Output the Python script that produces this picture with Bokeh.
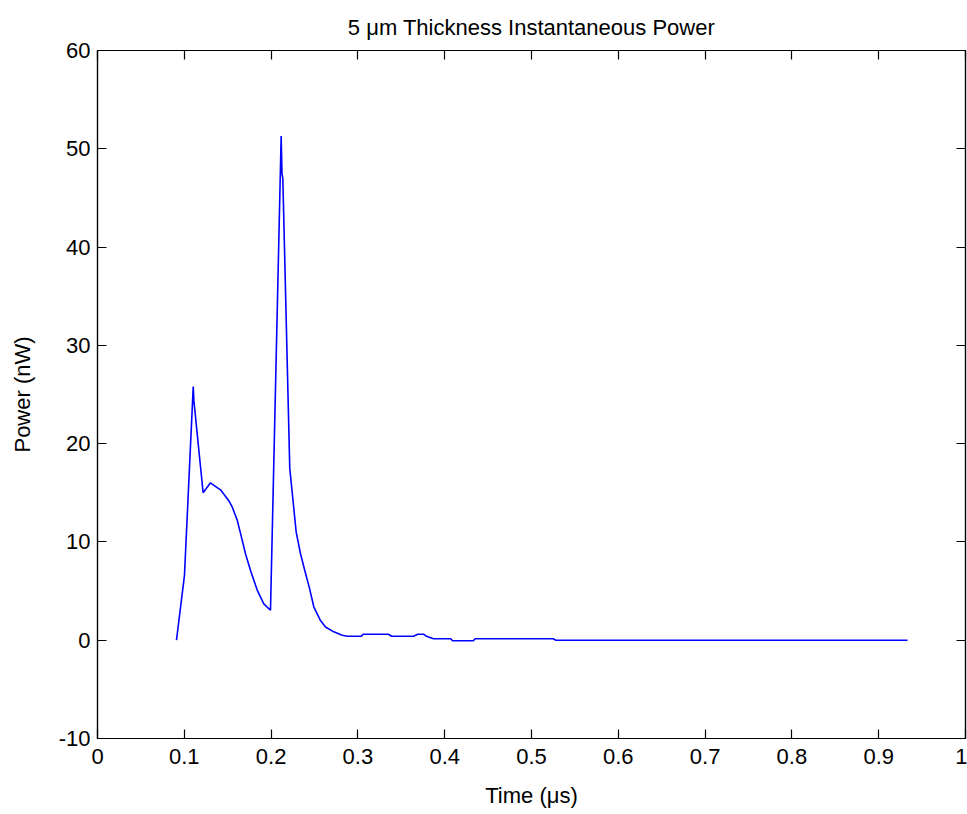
from bokeh.plotting import figure
from bokeh.models import LinearAxis, FixedTicker, Range1d
from bokeh.embed import file_html
from bokeh.resources import INLINE

# ---- data ----
time_us = [0.091, 0.1002, 0.1103, 0.1110, 0.1217, 0.1300, 0.1417, 0.1513, 0.1550,
           0.1610, 0.1647, 0.1705, 0.1763, 0.1840, 0.1916, 0.1993, 0.2116, 0.2125,
           0.2135, 0.2215, 0.2289, 0.2339, 0.2388, 0.2442, 0.2492, 0.2569, 0.2627,
           0.2722, 0.2819, 0.2880, 0.3040, 0.3060, 0.3350, 0.3390, 0.3640, 0.3690,
           0.3760, 0.3790, 0.3870, 0.4070, 0.4090, 0.4330, 0.4350, 0.5250, 0.5280,
           0.9332]
power_nw = [0.0, 6.6, 25.8, 24.4, 15.0, 16.0, 15.3, 14.2, 13.6,
            12.2, 10.9, 8.8, 7.1, 5.1, 3.7, 3.05, 51.3, 47.5,
            47.0, 17.5, 11.0, 8.8, 7.1, 5.3, 3.4, 2.0, 1.35,
            0.85, 0.5, 0.4, 0.4, 0.6, 0.6, 0.4, 0.4, 0.6,
            0.6, 0.4, 0.15, 0.15, -0.05, -0.05, 0.15, 0.15, 0.0,
            0.0]

x_ticks = [0, 0.1, 0.2, 0.3, 0.4, 0.5, 0.6, 0.7, 0.8, 0.9, 1]
x_tick_labels = ["0", "0.1", "0.2", "0.3", "0.4", "0.5", "0.6", "0.7", "0.8", "0.9", "1"]
y_ticks = [-10, 0, 10, 20, 30, 40, 50, 60]
y_tick_labels = ["-10", "0", "10", "20", "30", "40", "50", "60"]

title_text = "5 \u03bcm Thickness Instantaneous Power"
x_label = "Time (\u03bcs)"
y_label = "Power (nW)"

FONT = "Liberation Sans"
TICK_SIZE = "22px"
LABEL_SIZE = "22px"

p = figure(width=967, height=814,
           x_range=Range1d(0, 1), y_range=Range1d(-10, 60),
           output_backend="svg", toolbar_location=None,
           min_border_left=97, min_border_right=2,
           min_border_top=50, min_border_bottom=76)

p.line(time_us, power_nw, line_color="#0000ff", line_width=1.6)

p.grid.visible = False
p.outline_line_color = "black"
p.outline_line_width = 1.2
p.background_fill_color = "white"
p.border_fill_color = "white"

p.title.text = title_text
p.title.align = "center"
p.title.text_font = FONT
p.title.text_font_size = "22px"
p.title.text_font_style = "normal"
p.title.text_color = "black"
p.title.standoff = 21


def style_axis(ax, ticks, labels, show_labels):
    ax.ticker = FixedTicker(ticks=ticks)
    ax.minor_tick_line_color = None
    ax.major_tick_in = 9
    ax.major_tick_out = 0
    ax.major_tick_line_color = "black"
    ax.major_tick_line_width = 1.2
    ax.axis_line_color = "black"
    ax.axis_line_width = 1.2
    ax.major_label_text_font = FONT
    ax.major_label_text_color = "black"
    if show_labels:
        ax.major_label_overrides = {t: l for t, l in zip(ticks, labels)}
        ax.major_label_text_font_size = TICK_SIZE
    else:
        ax.major_label_overrides = {t: "" for t in ticks}
        ax.major_label_text_font_size = "1px"
        ax.major_label_standoff = 0
        ax.axis_label = None


xa = p.xaxis[0]
style_axis(xa, x_ticks, x_tick_labels, True)
xa.axis_label = x_label
xa.axis_label_text_font = FONT
xa.axis_label_text_font_size = LABEL_SIZE
xa.axis_label_text_font_style = "normal"
xa.axis_label_text_color = "black"
xa.major_label_standoff = 10
xa.axis_label_standoff = 16

ya = p.yaxis[0]
style_axis(ya, y_ticks, y_tick_labels, True)
ya.axis_label = y_label
ya.axis_label_text_font = FONT
ya.axis_label_text_font_size = LABEL_SIZE
ya.axis_label_text_font_style = "normal"
ya.axis_label_text_color = "black"
ya.major_label_standoff = 7
ya.axis_label_standoff = 21

top_ax = LinearAxis()
style_axis(top_ax, x_ticks, x_tick_labels, False)
p.add_layout(top_ax, "above")

right_ax = LinearAxis()
style_axis(right_ax, y_ticks, y_tick_labels, False)
p.add_layout(right_ax, "right")

open("out.html", "w").write(file_html(p, INLINE))
